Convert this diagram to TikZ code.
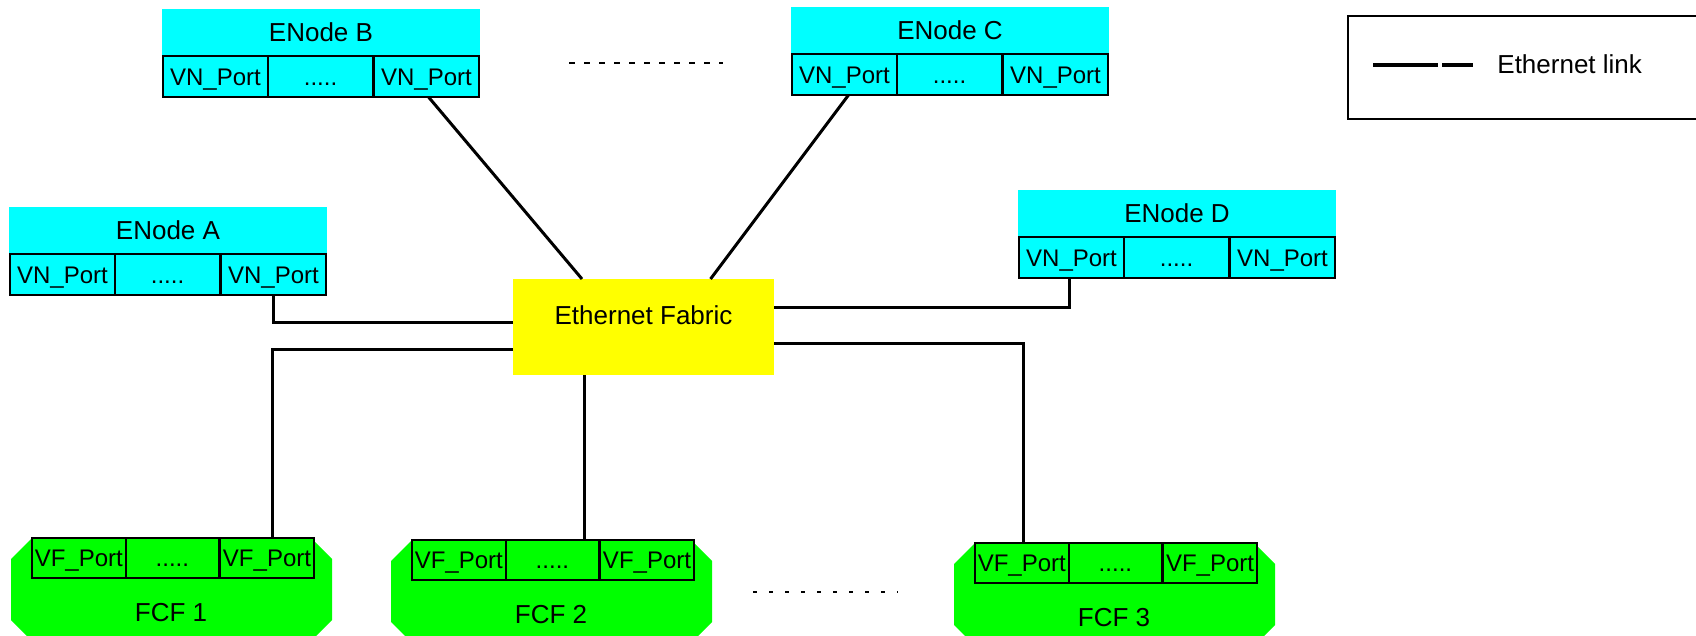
\documentclass[tikz,border=0pt]{standalone}
\usepackage{fontspec}
\setmainfont{Liberation Sans}

\definecolor{enodecyan}{RGB}{0,255,255}
\definecolor{fcfgreen}{RGB}{0,255,0}
\definecolor{fabricyellow}{RGB}{255,255,0}

% ENode: name, left, top, title
\newcommand{\enodebox}[4]{%
  \node[enodehead, anchor=north west] (#1) at (#2,#3) {#4};
  \node[vnport, anchor=north west] (#1-1) at ([xshift=0.5pt]#1.south west) {VN\_Port};
  \node[vnport, anchor=west] (#1-2) at (#1-1.east) {.....};
  \node[vnport, anchor=west, xshift=0.5pt] (#1-3) at (#1-2.east) {VN\_Port};
}
% FCF: name, left, top, title
\newcommand{\fcfbox}[4]{%
  \fill[fcfgreen] ({#2+21},#3) -- ({#2+300},#3) -- ({#2+321},{#3+21}) -- ({#2+321},{#3+82})
    -- ({#2+300},{#3+103}) -- ({#2+21},{#3+103}) -- (#2,{#3+82}) -- (#2,{#3+21}) -- cycle;
  \node[vfport, anchor=north west] (#1-1) at ({#2+21},#3) {VF\_Port};
  \node[vfport, anchor=west] (#1-2) at (#1-1.east) {.....};
  \node[vfport, anchor=west, xshift=0.5pt] (#1-3) at (#1-2.east) {VF\_Port};
  \node[bigtxt] (#1) at ({#2+160},{#3+75}) {#4};
}

\begin{document}
\begin{tikzpicture}[x=0.5pt,y=-0.5pt]
    \tikzstyle{bigtxt}=[font=\fontsize{13}{15}\selectfont, inner sep=0pt]
    \tikzstyle{enodehead}=[bigtxt, fill=enodecyan, minimum width=159pt, minimum height=23.5pt, outer sep=0pt]
    \tikzstyle{portcell}=[draw, line width=1pt, inner sep=0pt, outer sep=0pt, text height=8.6pt, text depth=0pt,
                          font=\fontsize{12}{14}\selectfont]
    \tikzstyle{vnport}=[portcell, fill=enodecyan, minimum width=52.5pt, minimum height=20.5pt]
    \tikzstyle{vfport}=[portcell, fill=fcfgreen, minimum width=46.8pt, minimum height=20pt]
    \tikzstyle{fabricbox}=[fill=fabricyellow, minimum width=130.5pt, minimum height=48pt, inner sep=0pt, outer sep=0pt]
    \tikzstyle{ethlink}=[line width=1.5pt]
    \tikzstyle{dotrow}=[line width=1pt, dash pattern=on 3pt off 4.5pt]
    \tikzstyle{legendbox}=[draw, line width=1.2pt, minimum width=200pt, minimum height=51.5pt, inner sep=0pt]

    \useasboundingbox (0,0) rectangle (1696,636);
    \clip (0,0) rectangle (1696,636);

    \enodebox{enA}{9}{207}{ENode A}
    \enodebox{enB}{162}{9}{ENode B}
    \enodebox{enC}{791}{7}{ENode C}
    \enodebox{enD}{1018}{190}{ENode D}

    \fcfbox{fcf1}{11}{538}{FCF 1}
    \fcfbox{fcf2}{391}{540}{FCF 2}
    \fcfbox{fcf3}{954}{543}{FCF 3}

    \node[fabricbox] (fabric) at (643.5,327) {};
    \node[bigtxt] (fabric-lbl) at (643.5,315) {Ethernet Fabric};

    \draw[ethlink] (enA-3.south) |- ([yshift=2.5pt]fabric.west);
    \draw[ethlink] ([yshift=-11pt]fabric.west) -| ([xshift=2.5pt]fcf1-3.north);
    \draw[ethlink] ([xshift=1pt]enB-3.south) -- ([xshift=-30.75pt]fabric.north);
    \draw[ethlink] ([xshift=2pt]enC-1.south) -- ([xshift=33.5pt]fabric.north);
    \draw[ethlink] ([yshift=10pt]fabric.east) -| ([xshift=-1.2pt]enD-1.south);
    \draw[ethlink] ([yshift=-8pt]fabric.east) -| ([xshift=1pt]fcf3-1.north);
    \coordinate (fab-s) at ([xshift=-29.75pt]fabric.south);
    \draw[ethlink] (fab-s) -- (fab-s |- fcf2-2.north);

    \draw[dotrow] (569,63) -- (723,63);
    \draw[dotrow, dash pattern=on 2pt off 6pt] (753,592) -- (898,592);

    \node[legendbox, anchor=north west] (legend) at (1347,15) {};
    \draw[line width=2pt] (1373,65) -- (1438,65) (1442,65) -- (1473,65);
    \node[bigtxt, anchor=west] (legend-txt) at (1497,64) {Ethernet link};
\end{tikzpicture}
\end{document}
